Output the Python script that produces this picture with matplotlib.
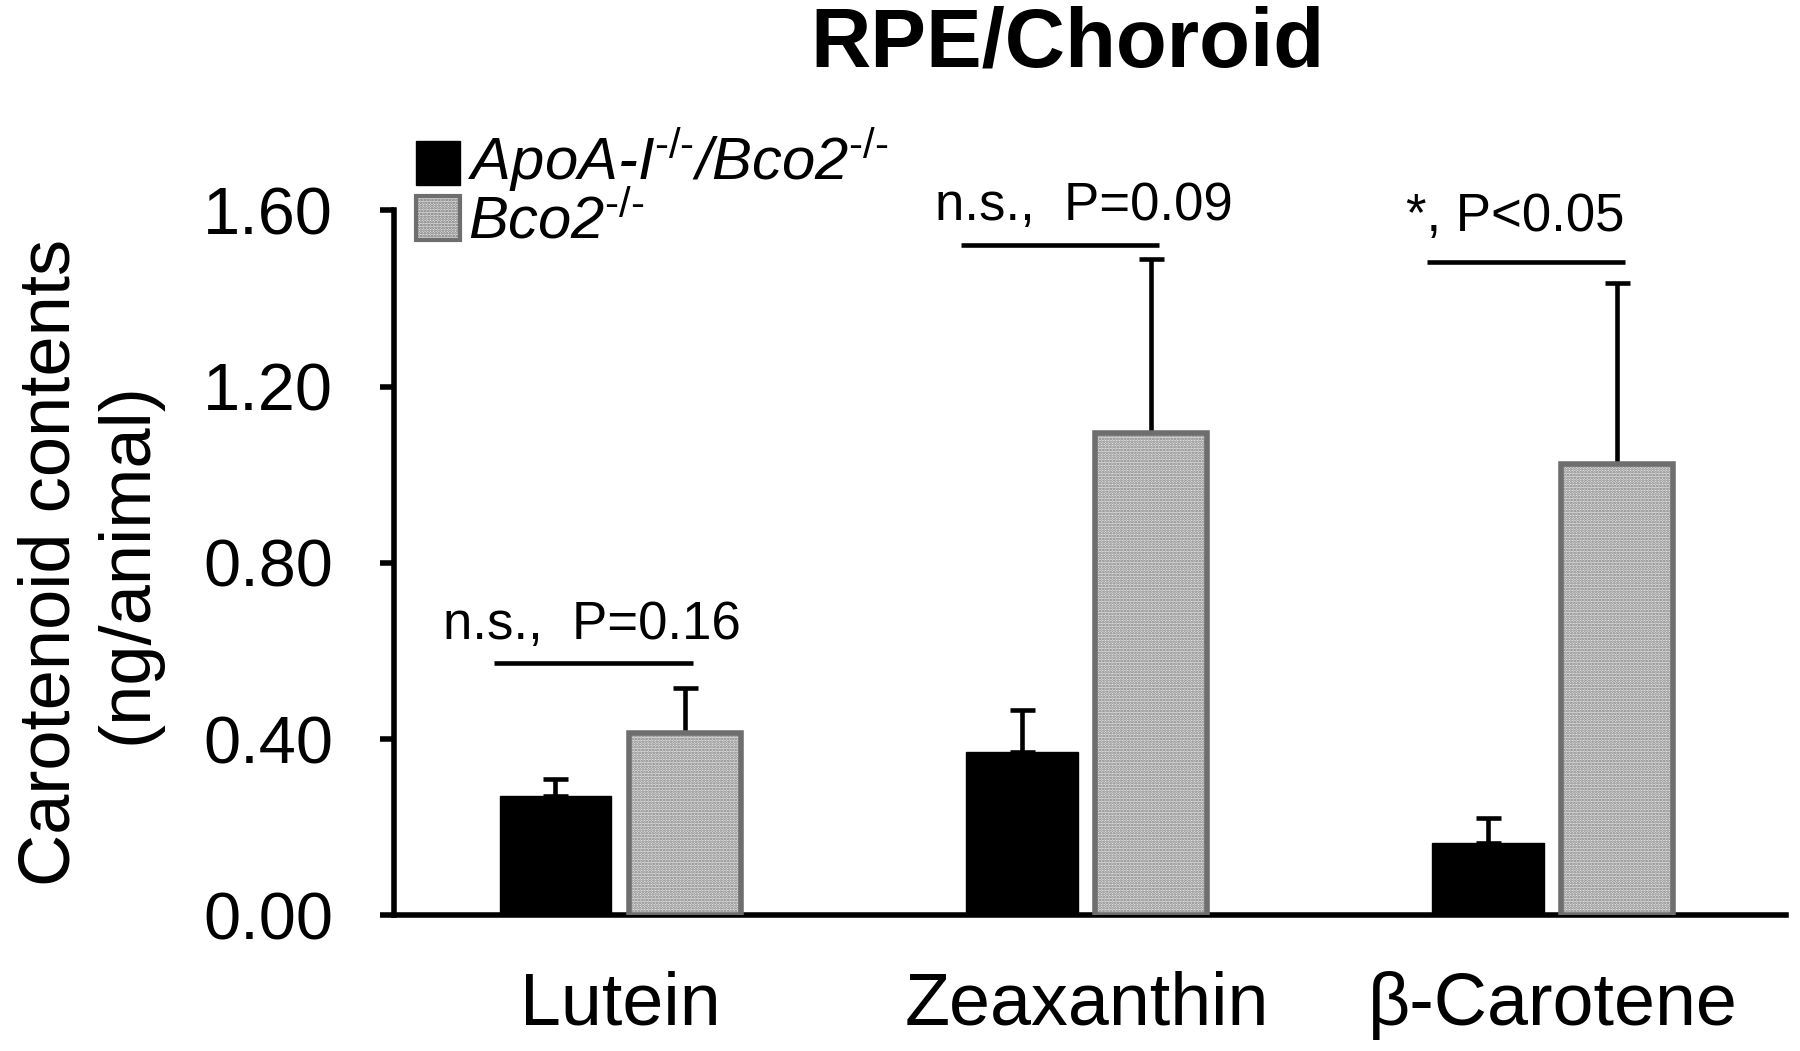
import matplotlib
matplotlib.use("Agg")
import matplotlib.pyplot as plt
import numpy as np
from matplotlib.patches import Rectangle

plt.rcParams['font.family'] = ['Liberation Sans', 'DejaVu Sans']
plt.rcParams['mathtext.fontset'] = 'custom'
plt.rcParams['mathtext.rm'] = 'Liberation Sans'
plt.rcParams['mathtext.it'] = 'Liberation Sans:italic'
plt.rcParams['mathtext.fallback'] = 'cm'
plt.rcParams['hatch.linewidth'] = 1.3

categories = ['Lutein', 'Zeaxanthin', 'β-Carotene']
series_names = ['ApoA-I$^{\\mathit{\u2010/\u2010}}$/Bco2$^{\\mathit{\u2010/\u2010}}$',
                'Bco2$^{\\mathit{\u2010/\u2010}}$']
apoa_vals = [0.27, 0.37, 0.165]
apoa_err = [0.04, 0.095, 0.055]
bco2_vals = [0.415, 1.095, 1.025]
bco2_err = [0.10, 0.395, 0.41]
yticks = [0.0, 0.4, 0.8, 1.2, 1.6]
sig_labels = ['n.s.,  P=0.16', 'n.s.,  P=0.09', '*, P<0.05']
sig_line_y = [0.573, 1.52, 1.483]
sig_text_y = [0.66, 1.61, 1.585]

fig = plt.figure(figsize=(18, 10.51), dpi=100)
ax = fig.add_axes([0.219, 0.129, 0.773, 0.671])

x = np.arange(len(categories))
w = 0.24
off = 0.139

ax.bar(x - off, apoa_vals, w, color='black', edgecolor='black', linewidth=1, zorder=3)
ax.errorbar(x - off, apoa_vals, yerr=[np.zeros(3), apoa_err], fmt='none',
            ecolor='black', elinewidth=3.3, capsize=9, capthick=3.3, zorder=2)

ax.bar(x + off, bco2_vals, w, color='#e4e4e4', edgecolor='#7c7c7c', hatch='......',
       linewidth=0, zorder=3)
ax.bar(x + off, bco2_vals, w, fill=False, edgecolor='#6e6e6e', linewidth=4, zorder=4)
ax.errorbar(x + off, bco2_vals, yerr=[np.zeros(3), bco2_err], fmt='none',
            ecolor='black', elinewidth=3.3, capsize=9, capthick=3.3, zorder=2)

# significance brackets
for i in range(len(categories)):
    ax.plot([x[i] - 0.27, x[i] + 0.155], [sig_line_y[i]] * 2, color='black', lw=3.3,
            clip_on=False, solid_capstyle='butt')
tx_off = [-0.06, -0.005, -0.079]
for i in range(len(categories)):
    ax.text(x[i] + tx_off[i], sig_text_y[i], sig_labels[i], ha='center', va='center',
            fontsize=38, clip_on=False)

ax.set_xlim(-0.485, 2.5)
ax.set_ylim(0, 1.6)
ax.set_yticks(yticks)
ax.set_yticklabels([f'{v:.2f}' for v in yticks], fontsize=48)
ax.set_xticks(x)
ax.set_xticklabels(categories, fontsize=53)
ax.tick_params(axis='y', length=10, width=4, pad=34)
ax.tick_params(axis='x', length=0, pad=40)
for s in ['top', 'right']:
    ax.spines[s].set_visible(False)
for s in ['left', 'bottom']:
    ax.spines[s].set_linewidth(4)

ax.set_ylabel('Carotenoid contents\n(ng/animal)', fontsize=52, linespacing=1.2)
ax.yaxis.set_label_coords(-0.167, 0.5)

# legend (manual)
ax.add_patch(Rectangle((0.016, 1.036), 0.031, 0.062, transform=ax.transAxes,
                       facecolor='black', edgecolor='black', clip_on=False))
ax.add_patch(Rectangle((0.016, 0.958), 0.031, 0.062, transform=ax.transAxes,
                       facecolor='#e4e4e4', edgecolor='#6e6e6e', hatch='......',
                       linewidth=3, clip_on=False))
ax.text(0.053, 1.071, series_names[0], transform=ax.transAxes, fontsize=43,
        style='italic', va='center', ha='left')
ax.text(0.053, 0.983, series_names[1], transform=ax.transAxes, fontsize=43,
        style='italic', va='center', ha='left')

fig.text(0.593, 0.958, 'RPE/Choroid', fontsize=60, fontweight='bold', ha='center', va='center')

fig.savefig('out.png', dpi=100, facecolor='white')
